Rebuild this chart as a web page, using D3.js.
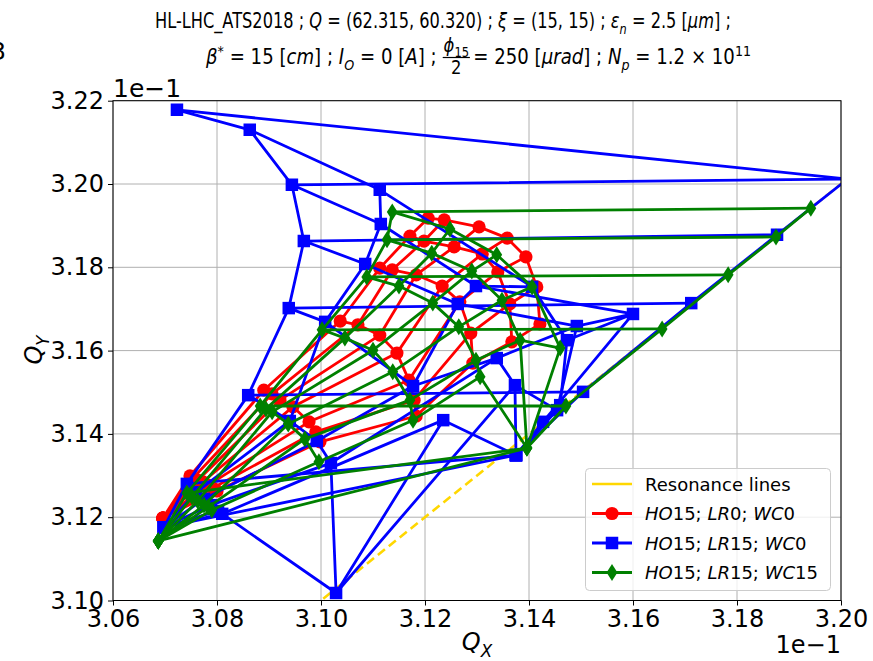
<!DOCTYPE html>
<html>
<head>
<meta charset="utf-8">
<script src="https://cdn.jsdelivr.net/npm/d3@7"></script>
<style>
  body { margin: 0; background: #fff; }
  svg { display: block; font-family: "DejaVu Sans", sans-serif; }
  svg text { white-space: pre; }
</style>
</head>
<body>
<svg id="chart" width="873" height="661"></svg>
<script>
// ---- data (tune values shown in units of 1e-1) ----
const xTicks = [3.06, 3.08, 3.10, 3.12, 3.14, 3.16, 3.18, 3.20];
const yTicks = [3.10, 3.12, 3.14, 3.16, 3.18, 3.20, 3.22];
const resonanceQ = [3.05, 3.25];   // Qx = Qy diagonal

// rows: amplitude steps, columns: angle steps
const redQx = [
  [3.0696, 3.0696, 3.0696, 3.0696, 3.0696, 3.0696, 3.0696],
  [3.0748, 3.0754, 3.0763, 3.0773, 3.0783, 3.0792, 3.0800],
  [3.0890, 3.0906, 3.0921, 3.0946, 3.0977, 3.0990, 3.0998],
  [3.1037, 3.1071, 3.1113, 3.1146, 3.1169, 3.1179, 3.1183],
  [3.1113, 3.1137, 3.1183, 3.1233, 3.1267, 3.1288, 3.1292],
  [3.1171, 3.1198, 3.1256, 3.1310, 3.1340, 3.1363, 3.1367],
  [3.1206, 3.1237, 3.1304, 3.1358, 3.1394, 3.1415, 3.1421]
];
const redQy = [
  [3.1198, 3.1198, 3.1198, 3.1198, 3.1198, 3.1198, 3.1198],
  [3.1299, 3.1294, 3.1289, 3.1285, 3.1277, 3.1270, 3.1263],
  [3.1505, 3.1496, 3.1481, 3.1465, 3.1429, 3.1405, 3.1381],
  [3.1671, 3.1662, 3.1637, 3.1594, 3.1529, 3.1481, 3.1443],
  [3.1798, 3.1794, 3.1782, 3.1755, 3.1717, 3.1642, 3.1570],
  [3.1875, 3.1863, 3.1849, 3.1832, 3.1789, 3.1712, 3.1621],
  [3.1918, 3.1914, 3.1897, 3.1870, 3.1825, 3.1753, 3.1664]
];

const blueQx = [
  [3.0698, 3.0698, 3.0698, 3.0698, 3.0698, 3.0698, 3.0698],
  [3.1375, 3.0742, 3.0760, 3.0775, 3.0788, 3.0802, 3.0810],
  [3.1504, 3.0860, 3.0940, 3.0992, 3.1019, 3.1029, 3.1235],
  [3.1712, 3.0938, 3.1008, 3.1177, 3.1338, 3.1373, 3.1375],
  [3.1877, 3.0967, 3.1085, 3.1263, 3.1492, 3.1454, 3.1375],
  [3.2013, 3.0944, 3.1115, 3.1298, 3.1600, 3.1427, 3.1375],
  [3.0723, 3.0863, 3.1113, 3.1406, 3.1473, 3.1460, 3.1375]
];
const blueQy = [
  [3.1176, 3.1176, 3.1176, 3.1176, 3.1176, 3.1176, 3.1176],
  [3.1349, 3.1280, 3.1260, 3.1244, 3.1229, 3.1215, 3.1208],
  [3.1501, 3.1493, 3.1431, 3.1383, 3.1330, 3.1018, 3.1433],
  [3.1714, 3.1702, 3.1669, 3.1515, 3.1582, 3.1517, 3.1349],
  [3.1878, 3.1863, 3.1808, 3.1712, 3.1659, 3.1457, 3.1349],
  [3.2012, 3.1998, 3.1904, 3.1755, 3.1688, 3.1429, 3.1349],
  [3.2178, 3.2130, 3.1986, 3.1753, 3.1625, 3.1469, 3.1349]
];

const greenQx = [
  [3.0687, 3.0687, 3.0687, 3.0687, 3.0687, 3.0687, 3.0687],
  [3.1396, 3.0742, 3.0752, 3.0763, 3.0775, 3.0783, 3.0790],
  [3.1471, 3.0883, 3.0894, 3.0906, 3.0937, 3.0969, 3.0996],
  [3.1656, 3.1002, 3.1046, 3.1100, 3.1138, 3.1171, 3.1177],
  [3.1783, 3.1088, 3.1150, 3.1215, 3.1265, 3.1298, 3.1306],
  [3.1875, 3.1127, 3.1213, 3.1290, 3.1348, 3.1383, 3.1396],
  [3.1942, 3.1137, 3.1248, 3.1338, 3.1406, 3.1460, 3.1396]
];
const greenQy = [
  [3.1143, 3.1143, 3.1143, 3.1143, 3.1143, 3.1143, 3.1143],
  [3.1366, 3.1258, 3.1249, 3.1239, 3.1229, 3.1224, 3.1217],
  [3.1467, 3.1467, 3.1460, 3.1453, 3.1424, 3.1388, 3.1333],
  [3.1652, 3.1650, 3.1630, 3.1601, 3.1549, 3.1481, 3.1433],
  [3.1782, 3.1777, 3.1755, 3.1714, 3.1657, 3.1577, 3.1537],
  [3.1873, 3.1866, 3.1834, 3.1791, 3.1721, 3.1625, 3.1366],
  [3.1942, 3.1933, 3.1892, 3.1830, 3.1753, 3.1606, 3.1366]
];

const seriesLabels = [
  [["HO", 1], ["15; ", 0], ["LR", 1], ["0; ", 0], ["WC", 1], ["0", 0]],
  [["HO", 1], ["15; ", 0], ["LR", 1], ["15; ", 0], ["WC", 1], ["0", 0]],
  [["HO", 1], ["15; ", 0], ["LR", 1], ["15; ", 0], ["WC", 1], ["15", 0]]
];

// ---- layout ----
const W = 873, H = 661;
const plot = { left: 113, right: 841, top: 100.7, bottom: 600.5 };
const x = d3.scaleLinear().domain([3.06, 3.20]).range([plot.left, plot.right]);
const y = d3.scaleLinear().domain([3.10, 3.22]).range([plot.bottom, plot.top]);

const svg = d3.select("#chart");
svg.append("rect").attr("width", W).attr("height", H).attr("fill", "#fff");
svg.append("defs").append("clipPath").attr("id", "plotClip")
  .append("rect")
  .attr("x", plot.left).attr("y", plot.top)
  .attr("width", plot.right - plot.left).attr("height", plot.bottom - plot.top);

// grid
const grid = svg.append("g").attr("stroke", "#b0b0b0").attr("stroke-width", 1);
grid.selectAll("line.gx").data(xTicks).join("line").attr("class", "gx")
  .attr("x1", d => x(d)).attr("x2", d => x(d))
  .attr("y1", plot.top).attr("y2", plot.bottom);
grid.selectAll("line.gy").data(yTicks).join("line").attr("class", "gy")
  .attr("y1", d => y(d)).attr("y2", d => y(d))
  .attr("x1", plot.left).attr("x2", plot.right);

// marker shapes
const circleSym = d3.symbol().type(d3.symbolCircle).size(Math.PI * 6.6 * 6.6)();
const squareSym = d3.symbol().type(d3.symbolSquare).size(12.5 * 12.5)();
const diamondSym = "M0,-8.5L5.4,0L0,8.5L-5.4,0Z";

const series = [
  { qx: redQx, qy: redQy, color: "#ff0000", sym: circleSym },
  { qx: blueQx, qy: blueQy, color: "#0000ff", sym: squareSym },
  { qx: greenQx, qy: greenQy, color: "#008000", sym: diamondSym }
];

const line = d3.line().x(d => x(d[0])).y(d => y(d[1]));
const layer = svg.append("g").attr("clip-path", "url(#plotClip)");

// resonance line
layer.append("path")
  .datum(resonanceQ.map(q => [q, q]))
  .attr("d", line)
  .attr("fill", "none")
  .attr("stroke", "#ffd700")
  .attr("stroke-width", 2.6)
  .attr("stroke-dasharray", "9,5");

// footprints: lines along amplitude rows and angle columns, then markers
series.forEach(s => {
  const rows = s.qx.map((r, i) => r.map((v, j) => [v, s.qy[i][j]]));
  const cols = rows[0].map((_, j) => rows.map(r => r[j]));
  const g = layer.append("g");
  g.append("g").selectAll("path").data(rows.concat(cols)).join("path")
    .attr("d", line)
    .attr("fill", "none")
    .attr("stroke", s.color)
    .attr("stroke-width", 2.8)
    .attr("stroke-linejoin", "round");
  g.append("g").selectAll("path").data(rows.flat()).join("path")
    .attr("transform", d => `translate(${x(d[0])},${y(d[1])})`)
    .attr("d", s.sym)
    .attr("fill", s.color);
});

// frame
svg.append("rect")
  .attr("x", plot.left).attr("y", plot.top)
  .attr("width", plot.right - plot.left).attr("height", plot.bottom - plot.top)
  .attr("fill", "none").attr("stroke", "#000").attr("stroke-width", 1);

// axes
const fmt = d3.format(".2f");
const xAxis = svg.append("g").attr("transform", `translate(0,${plot.bottom})`)
  .call(d3.axisBottom(x).tickValues(xTicks).tickFormat(fmt).tickSize(5).tickPadding(4));
const yAxis = svg.append("g").attr("transform", `translate(${plot.left},0)`)
  .call(d3.axisLeft(y).tickValues(yTicks).tickFormat(fmt).tickSize(5).tickPadding(4));
[xAxis, yAxis].forEach(a => {
  a.select(".domain").remove();
  a.selectAll("text").attr("font-size", 24).attr("font-family", "DejaVu Sans").attr("fill", "#000");
  a.selectAll("line").attr("stroke", "#000");
});

// rich text helper: segments of [text, italic, shift] where shift = "sub" | "sup"
function rich(textSel, segs, size) {
  let off = 0;
  segs.forEach(s => {
    const [t, it, shift] = s;
    const target = shift === "sub" ? 0.28 * size : shift === "sup" ? -0.38 * size : 0;
    const ts = textSel.append("tspan").text(t)
      .attr("font-style", it ? "italic" : "normal")
      .attr("font-size", shift ? size * 0.7 : size);
    if (target !== off) { ts.attr("dy", target - off); off = target; }
  });
  return textSel;
}

// offset labels
svg.append("text").attr("x", plot.left).attr("y", 97).attr("font-size", 25).text("1e\u22121");
svg.append("text").attr("x", plot.right).attr("y", 653).attr("text-anchor", "end").attr("font-size", 24).text("1e\u22121");

// axis labels
rich(svg.append("text").attr("x", 477).attr("y", 650).attr("text-anchor", "middle"),
  [["Q", 1], ["X", 1, "sub"]], 24);
rich(svg.append("text").attr("text-anchor", "middle")
  .attr("transform", "translate(42,350) rotate(-90)"),
  [["Q", 1], ["Y", 1, "sub"]], 24);

// left edge glyph
svg.append("text").attr("x", 6).attr("y", 60).attr("text-anchor", "end").attr("font-size", 24).text("3");

// title line 1
const TS = 21;
const t1g = svg.append("g");
const t1 = rich(t1g.append("text").attr("x", 0).attr("y", 28), [
  ["HL-LHC_ATS2018 ; ", 0], ["Q", 1], [" = (62.315, 60.320) ; ", 0], ["\u03be", 1],
  [" = (15, 15) ; ", 0], ["\u03b5", 1], ["n", 1, "sub"], [" = 2.5 [", 0], ["\u03bcm", 1], ["] ;", 0]
], TS);
{
  const w = t1.node().getBBox().width;
  t1g.attr("transform", `translate(155,0) scale(${(731 - 155) / w},1)`);
}

// title line 2 with a stacked fraction
const t2g = svg.append("g");
const tA = rich(t2g.append("text").attr("x", 0).attr("y", 64), [
  ["\u03b2", 1], ["*", 0, "sup"], [" = 15 [", 0], ["cm", 1], ["] ;", 0],
  ["I", 1], ["O", 1, "sub"], [" = 0 [", 0], ["A", 1], ["] ;", 0]
], TS);
// restore the space between the two groups
tA.select("tspan:nth-child(5)").text("] ; ");
const wA = tA.node().getBBox().width;
const fr = t2g.append("g");
const num = rich(fr.append("text").attr("y", 52).attr("text-anchor", "middle"),
  [["\u03d5", 1], ["15", 0, "sub"]], 19);
const wN = num.node().getBBox().width;
const fx = wA + 7 + wN / 2;
num.attr("x", fx);
fr.append("line").attr("x1", fx - wN / 2 - 1).attr("x2", fx + wN / 2 + 1)
  .attr("y1", 57.5).attr("y2", 57.5).attr("stroke", "#000").attr("stroke-width", 1.2);
fr.append("text").attr("x", fx).attr("y", 74).attr("text-anchor", "middle").attr("font-size", 19).text("2");
rich(t2g.append("text").attr("x", fx + wN / 2 + 5).attr("y", 64), [
  ["= 250 [", 0], ["\u03bcrad", 1], ["] ; ", 0], ["N", 1], ["p", 1, "sub"],
  [" = 1.2 \u00d7 10", 0], ["11", 0, "sup"]
], TS);
{
  const w = t2g.node().getBBox().width;
  t2g.attr("transform", `translate(206,0) scale(${(752 - 206) / w},1)`);
}

// legend
const lg = svg.append("g");
lg.append("rect").attr("x", 585.5).attr("y", 468.5).attr("width", 245).attr("height", 122)
  .attr("rx", 4).attr("fill", "#fff").attr("fill-opacity", 0.8)
  .attr("stroke", "#cccccc").attr("stroke-width", 1);
const rowY = [484, 513.5, 543, 572.5];
lg.append("line").attr("x1", 592).attr("x2", 632).attr("y1", rowY[0]).attr("y2", rowY[0])
  .attr("stroke", "#ffd700").attr("stroke-width", 2.6);
lg.append("text").attr("x", 645).attr("y", rowY[0] + 6.5).attr("font-size", 18).text("Resonance lines");
series.forEach((s, k) => {
  const yy = rowY[k + 1];
  lg.append("line").attr("x1", 592).attr("x2", 632).attr("y1", yy).attr("y2", yy)
    .attr("stroke", s.color).attr("stroke-width", 2.8);
  lg.append("path").attr("transform", `translate(612,${yy})`).attr("d", s.sym).attr("fill", s.color);
  rich(lg.append("text").attr("x", 645).attr("y", yy + 6.5), seriesLabels[k], 18);
});
</script>
</body>
</html>
